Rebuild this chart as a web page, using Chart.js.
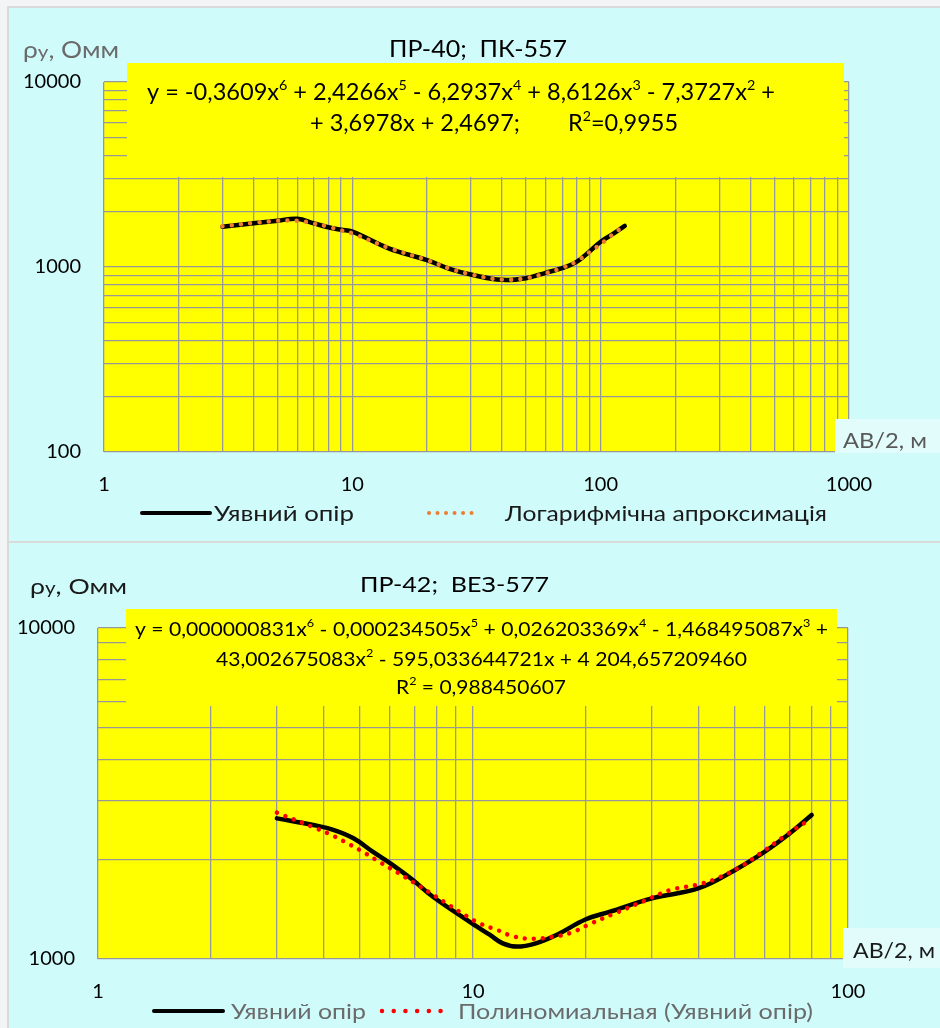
<!DOCTYPE html>
<html><head><meta charset="utf-8">
<script src="https://cdn.jsdelivr.net/npm/chart.js@4.4.1/dist/chart.umd.min.js"></script>
<style>
html,body{margin:0;padding:0;}
body{width:940px;height:1028px;overflow:hidden;position:relative;background:#f3f4f6;font-family:Lato,sans-serif;}
.panel{position:absolute;background:#d0fbfb;box-sizing:border-box;}
canvas{position:absolute;left:0;}
</style></head><body>
<div class="panel" style="left:7px;top:6px;width:940px;height:537px;border:2px solid #dadada;border-right:none;"></div>
<div class="panel" style="left:7px;top:543px;width:940px;height:500px;border-left:2px solid #dadada;"></div>
<canvas id="c1" width="940" height="541" style="top:0"></canvas>
<canvas id="c2" width="940" height="487" style="top:541px"></canvas>
<script>
// ---------- DATA ----------
const topXTickLabels = ['1','10','100','1000'];
const topYTickLabels = ['100','1000','10000'];
const botXTickLabels = ['1','10','100'];
const botYTickLabels = ['1000','10000'];

// chart 1: ПР-40; ПК-557
const topAB  = [3, 4, 5, 6, 7, 8, 9, 10, 14, 20, 25, 30, 40, 50, 60, 70, 80, 90, 100, 113, 125];
const topRho = [1652, 1722, 1779, 1824, 1722, 1640, 1590, 1553, 1262, 1090, 970, 910, 852, 870, 930, 985, 1065, 1210, 1370, 1520, 1667];
const topFitAB  = [3, 4, 5, 6, 7, 8, 9, 10, 14, 20, 25, 30, 40, 50, 60, 70, 80, 92, 99, 106, 113, 123];
const topFitRho = [1662, 1730, 1775, 1780, 1720, 1650, 1580, 1520, 1270, 1090, 975, 912, 855, 870, 925, 990, 1075, 1227, 1315, 1413, 1517, 1652];

// chart 2: ПР-42; ВЕЗ-577
const botAB  = [3, 3.75, 4.24, 4.8, 5.4, 6.1, 6.9, 7.8, 9.8, 11.1, 12, 13.1, 14.7, 16.7, 20, 23.2, 30, 40, 50, 60, 70, 80];
const botRho = [2660, 2540, 2455, 2315, 2110, 1925, 1735, 1545, 1295, 1182, 1115, 1090, 1115, 1182, 1318, 1390, 1525, 1636, 1858, 2110, 2398, 2723];
const botFitAB  = [3, 3.75, 4.16, 4.63, 5.13, 5.68, 6.3, 6.93, 7.68, 8.5, 9.6, 10.4, 11.6, 12.9, 14.5, 16.4, 18.3, 20.5, 23.9, 28.3, 33.6, 39.3, 44.1, 51.4, 59.3, 68.5, 79.3];
const botFitRho = [2767, 2501, 2380, 2236, 2095, 1954, 1823, 1705, 1585, 1473, 1349, 1282, 1224, 1168, 1152, 1168, 1201, 1276, 1374, 1490, 1616, 1673, 1741, 1893, 2110, 2371, 2643];

// ---------- helpers ----------
const FONT = 'Lato, "Open Sans", sans-serif';
const GRID = '#989898';
function logTicks(min, max){
  const t = [];
  for (let d = min; d < max; d *= 10) for (let m = 1; m < 10; m++) t.push({value: m*d});
  t.push({value: max});
  return t;
}
// segs: [text, kind] kind 0 normal, 1 superscript, 2 smaller same baseline
function drawRich(ctx, segs, left, cy, size, width, color){
  ctx.save();
  ctx.fillStyle = color;
  ctx.textBaseline = 'alphabetic';
  ctx.textAlign = 'left';
  const f = k => (k===1 ? Math.round(size*0.62) : k===2 ? Math.round(size*0.78) : size) + 'px ' + FONT;
  let total = 0; const ws = [];
  segs.forEach(s => { ctx.font = f(s[1]||0); const w = ctx.measureText(s[0]).width; ws.push(w); total += w; });
  const sx = width ? width/total : 1;
  ctx.translate(left, cy + size*0.36);
  ctx.scale(sx, 1);
  let x = 0;
  segs.forEach((s,i) => { ctx.font = f(s[1]||0); ctx.fillText(s[0], x, s[1]===1 ? -size*0.44 : 0); x += ws[i]; });
  ctx.restore();
}

function makeChart(cfg){
  const A = cfg.area;
  const overlay = {
    id: 'overlay',
    beforeDraw(chart){
      const a = chart.chartArea, c = chart.ctx;
      c.save(); c.fillStyle = '#ffff00';
      c.fillRect(a.left, a.top, a.right - a.left, a.bottom - a.top);
      c.restore();
    },
    beforeDatasetsDraw(chart){
      const c = chart.ctx;
      c.save(); c.translate(0, -cfg.oy);
      const b = cfg.eqBox;
      c.fillStyle = '#ffff00';
      c.fillRect(b[0], b[1], b[2]-b[0], b[3]-b[1]);
      cfg.eqLines.forEach(l => drawRich(c, l.segs, l.x0, l.cy, cfg.eqSize, l.x1 - l.x0, '#000'));
      c.restore();
    },
    afterDraw(chart){
      const c = chart.ctx;
      c.save(); c.translate(0, -cfg.oy);
      drawRich(c, [['ρ',0],['у',2],[', Омм',0]], cfg.rho.x0, cfg.rho.cy, cfg.headSize, cfg.rho.x1 - cfg.rho.x0, cfg.rho.color);
      drawRich(c, [[cfg.title,0]], cfg.titlePos.x0, cfg.titlePos.cy, cfg.headSize, cfg.titlePos.x1 - cfg.titlePos.x0, '#000');
      const lb = cfg.abBox;
      c.fillStyle = cfg.abBg;
      c.fillRect(lb[0], lb[1], lb[2]-lb[0], lb[3]-lb[1]);
      drawRich(c, [['АВ/2, м',0]], cfg.ab.x0, cfg.ab.cy, 21, cfg.ab.x1 - cfg.ab.x0, cfg.ab.color);
      const L = cfg.legend;
      c.strokeStyle = '#000'; c.lineWidth = 4; c.lineCap = 'round';
      c.beginPath(); c.moveTo(L.l1[0], L.y); c.lineTo(L.l1[1], L.y); c.stroke();
      drawRich(c, [[cfg.mainLabel,0]], L.t1[0], L.y, 21, L.t1[1]-L.t1[0], L.color);
      c.strokeStyle = cfg.fitColor; c.lineWidth = L.dotW; c.setLineDash([0.01, L.dotGap]);
      c.beginPath(); c.moveTo(L.l2[0], L.y); c.lineTo(L.l2[1], L.y); c.stroke();
      c.setLineDash([]);
      drawRich(c, [[cfg.fitLabel,0]], L.t2[0], L.y, 21, L.t2[1]-L.t2[0], L.color);
      c.restore();
    }
  };
  const tickFont = {family: FONT, size: 20};
  return new Chart(document.getElementById(cfg.id).getContext('2d'), {
    type: 'line',
    data: {datasets: [
      {label: cfg.fitLabel, data: cfg.fitX.map((x,i)=>({x, y: cfg.fitY[i]})), borderColor: cfg.fitColor,
       borderWidth: cfg.dotW, borderDash: [0.01, cfg.dotGap], borderCapStyle: 'round', pointRadius: 0, tension: 0.4, fill: false},
      {label: cfg.mainLabel, data: cfg.mainX.map((x,i)=>({x, y: cfg.mainY[i]})), borderColor: '#000',
       borderWidth: cfg.mainW, borderCapStyle: 'round', borderJoinStyle: 'round', pointRadius: 0, tension: 0.4, fill: false}
    ]},
    options: {
      responsive: false, animation: false, devicePixelRatio: 1,
      layout: {padding: {left: 0, top: A.t, right: cfg.W - A.r, bottom: 0}},
      plugins: {legend: {display: false}, title: {display: false}, tooltip: {enabled: false}},
      scales: {
        x: {type: 'logarithmic', min: cfg.xMin, max: cfg.xMax,
            afterBuildTicks: s => { s.ticks = logTicks(cfg.xMin, cfg.xMax); },
            afterFit: s => { s.height = cfg.H - A.b; },
            ticks: {autoSkip: false, maxRotation: 0, minRotation: 0, padding: 21, color: '#000', font: tickFont,
                    callback: v => cfg.xLabels.includes(String(v)) ? String(v) : ''},
            grid: {color: GRID, lineWidth: 1.3, drawTicks: false, tickLength: 0},
            border: {display: false}},
        y: {type: 'logarithmic', min: cfg.yMin, max: cfg.yMax,
            afterBuildTicks: s => { s.ticks = logTicks(cfg.yMin, cfg.yMax); },
            afterFit: s => { s.width = A.l; },
            ticks: {autoSkip: false, padding: 23, color: '#000', font: tickFont,
                    callback: v => cfg.yLabels.includes(String(v)) ? String(v) : ''},
            grid: {color: GRID, lineWidth: 1.3, drawTicks: false, tickLength: 0},
            border: {display: false}}
      }
    },
    plugins: [overlay]
  });
}

makeChart({
  id: 'c1', oy: 0, W: 940, H: 541,
  area: {l: 104, r: 849, t: 82, b: 452},
  xMin: 1, xMax: 1000, yMin: 100, yMax: 10000,
  xLabels: topXTickLabels, yLabels: topYTickLabels,
  mainX: topAB, mainY: topRho, fitX: topFitAB, fitY: topFitRho,
  mainLabel: 'Уявний опір', fitLabel: 'Логарифмічна апроксимація',
  fitColor: '#ed7d31', mainW: 4.5, dotW: 4.5, dotGap: 9.3,
  title: 'ПР-40;  ПК-557', headSize: 23,
  titlePos: {x0: 389, x1: 567, cy: 48.5},
  rho: {x0: 23, x1: 119, cy: 50, color: '#6b6b6b'},
  eqBox: [127, 63, 844, 177], eqSize: 23,
  eqLines: [
    {x0: 147, x1: 775, cy: 92, segs: [['y = -0,3609x'],['6',1],[' + 2,4266x'],['5',1],[' - 6,2937x'],['4',1],[' + 8,6126x'],['3',1],[' - 7,3727x'],['2',1],[' +']]},
    {x0: 310, x1: 678, cy: 123, segs: [['+ 3,6978x + 2,4697;        R'],['2',1],['=0,9955']]}
  ],
  abBox: [835, 419, 940, 453], abBg: '#e2fcfc',
  ab: {x0: 843, x1: 927, cy: 440, color: '#595959'},
  legend: {y: 513, color: '#1a1a1a', l1: [142, 210], t1: [214, 354], l2: [429, 480], t2: [505, 827], dotW: 4, dotGap: 8.5}
});

makeChart({
  id: 'c2', oy: 541, W: 940, H: 487,
  area: {l: 98, r: 848, t: 628 - 541, b: 959 - 541},
  xMin: 1, xMax: 100, yMin: 1000, yMax: 10000,
  xLabels: botXTickLabels, yLabels: botYTickLabels,
  mainX: botAB, mainY: botRho, fitX: botFitAB, fitY: botFitRho,
  mainLabel: 'Уявний опір', fitLabel: 'Полиномиальная (Уявний опір)',
  fitColor: '#ff0000', mainW: 4.5, dotW: 4.5, dotGap: 9,
  title: 'ПР-42;  ВЕЗ-577', headSize: 22,
  titlePos: {x0: 360, x1: 549, cy: 584},
  rho: {x0: 30, x1: 127, cy: 586, color: '#1a1a1a'},
  eqBox: [126, 609, 837, 706], eqSize: 20,
  eqLines: [
    {x0: 135, x1: 828, cy: 629, segs: [['y = 0,000000831x'],['6',1],[' - 0,000234505x'],['5',1],[' + 0,026203369x'],['4',1],[' - 1,468495087x'],['3',1],[' +']]},
    {x0: 216, x1: 747, cy: 659, segs: [['43,002675083x'],['2',1],[' - 595,033644721x + 4 204,657209460']]},
    {x0: 396, x1: 566, cy: 687, segs: [['R'],['2',1],[' = 0,988450607']]}
  ],
  abBox: [843, 928, 940, 968], abBg: '#e2fcfc',
  ab: {x0: 853, x1: 935, cy: 950, color: '#1a1a1a'},
  legend: {y: 1011, color: '#6b6b6b', l1: [154, 223], t1: [231, 366], l2: [382, 442], t2: [458, 813], dotW: 4.5, dotGap: 11.7}
});
</script>
</body></html>
